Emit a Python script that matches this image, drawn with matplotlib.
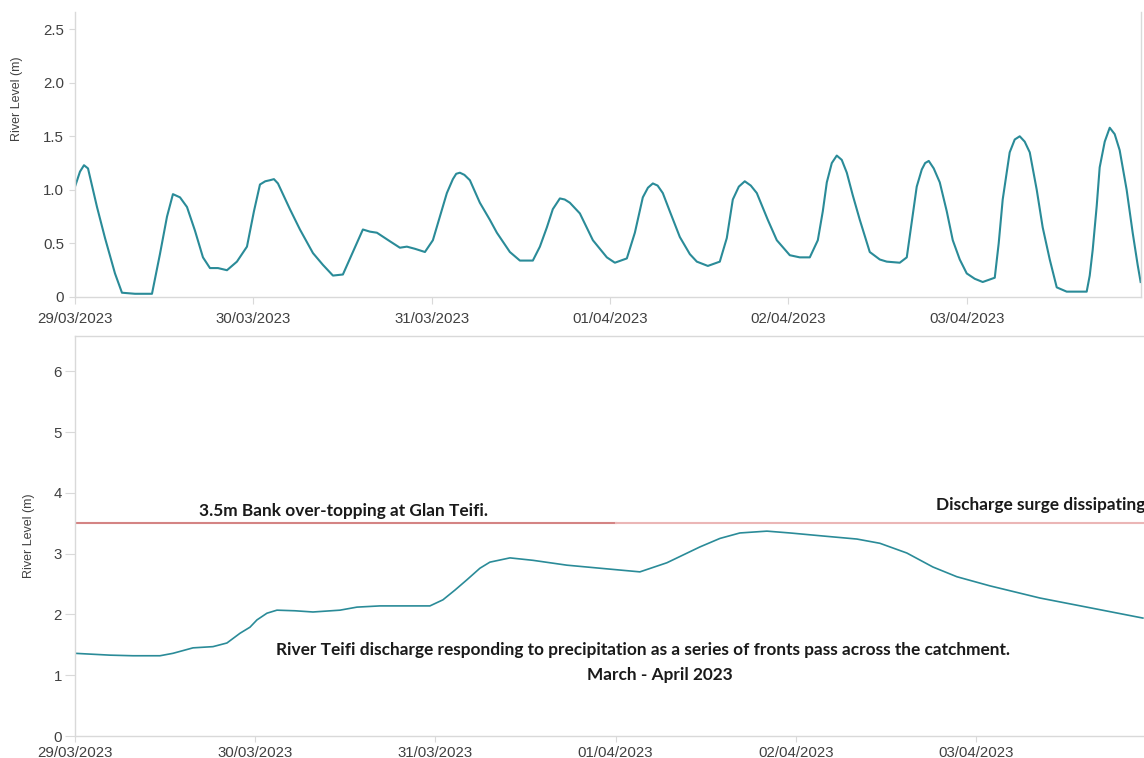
#!/usr/bin/env python3
"""River Teifi level at two gauges, 29 March - 3 April 2023.

Top panel: tidal gauge record. Bottom panel: upstream gauge with the
3.5 m bank over-topping level at Glan Teifi.
"""

import matplotlib

matplotlib.use("Agg")
import matplotlib.dates as mdates
import matplotlib.pyplot as plt
import pandas as pd

START = pd.Timestamp("2023-03-29 00:00")

# ---- tidal gauge (hours after start, level in m) -------------------------
tidal_hours = [
    0.0, 0.67, 1.21, 1.75, 2.96, 4.04, 5.38, 6.32, 8.07, 10.36, 11.43, 12.38,
    13.18, 14.13, 15.07, 16.14, 17.22, 18.16, 19.24, 20.45, 21.79, 23.14,
    24.08, 24.89, 25.60, 26.23, 26.77, 27.31, 28.92, 30.27, 32.02, 33.36,
    34.71, 36.05, 37.40, 38.74, 39.69, 40.63, 42.38, 43.72, 44.66, 45.74,
    47.09, 48.16, 49.10, 50.04, 50.85, 51.30, 51.79, 52.40, 53.14, 54.48,
    55.83, 56.77, 58.52, 59.87, 61.61, 62.56, 63.50, 64.30, 65.25, 65.90,
    66.59, 67.94, 69.69, 71.57, 72.65, 74.26, 75.34, 76.41, 77.10, 77.76,
    78.40, 79.10, 80.04, 81.39, 82.74, 83.68, 85.16, 86.77, 87.71, 88.52,
    89.33, 90.13, 90.94, 91.75, 93.23, 94.44, 96.19, 97.53, 98.88, 99.96,
    100.63, 101.17, 101.84, 102.51, 103.18, 103.86, 104.66, 105.61, 106.95,
    108.30, 109.24, 110.99, 111.93, 112.60, 113.27, 113.95, 114.40, 114.89,
    115.56, 116.37, 117.31, 118.12, 119.06, 120.00, 121.08, 122.15, 123.77,
    124.30, 124.84, 125.78, 126.46, 127.13, 127.80, 128.48, 129.42, 130.22,
    131.17, 132.11, 133.45, 134.80, 136.14, 136.55, 136.95, 137.49, 137.89,
    138.57, 139.24, 139.91, 140.58, 141.52, 142.33, 143.00, 143.40,
]
tidal_level = [
    1.03, 1.17, 1.23, 1.20, 0.84, 0.55, 0.22, 0.04, 0.03, 0.03, 0.40, 0.75,
    0.96, 0.93, 0.84, 0.62, 0.37, 0.27, 0.27, 0.25, 0.33, 0.47,
    0.80, 1.05, 1.08, 1.09, 1.10, 1.06, 0.82, 0.63, 0.41, 0.30,
    0.20, 0.21, 0.42, 0.63, 0.61, 0.60, 0.52, 0.46, 0.47, 0.45,
    0.42, 0.53, 0.75, 0.97, 1.10, 1.15, 1.16, 1.14, 1.09, 0.88,
    0.72, 0.60, 0.42, 0.34, 0.34, 0.47, 0.65, 0.82, 0.92, 0.91,
    0.88, 0.78, 0.53, 0.37, 0.32, 0.36, 0.60, 0.93, 1.02, 1.06,
    1.04, 0.97, 0.80, 0.56, 0.40, 0.33, 0.29, 0.33, 0.55, 0.91,
    1.03, 1.08, 1.04, 0.97, 0.72, 0.53, 0.39, 0.37, 0.37, 0.53,
    0.80, 1.07, 1.25, 1.32, 1.28, 1.16, 0.95, 0.72, 0.42,
    0.35, 0.33, 0.32, 0.37, 0.70, 1.03, 1.19, 1.25, 1.27,
    1.20, 1.07, 0.80, 0.53, 0.35, 0.22, 0.17, 0.14, 0.18,
    0.50, 0.91, 1.35, 1.47, 1.50, 1.45, 1.35, 1.00, 0.65,
    0.35, 0.09, 0.05, 0.05, 0.05, 0.20, 0.44, 0.85, 1.21,
    1.45, 1.58, 1.52, 1.37, 1.00, 0.60, 0.30, 0.14,
]

# ---- upstream gauge ------------------------------------------------------
river_hours = [
    0.0, 4.66, 7.73, 11.32, 13.05, 15.72, 18.38, 20.24, 21.98, 23.31, 24.24,
    25.57, 26.90, 29.30, 31.70, 35.30, 37.56, 40.62, 43.29, 47.28, 49.01,
    50.61, 52.21, 53.94, 55.27, 57.94, 61.00, 65.53, 69.92, 75.25, 78.85,
    83.24, 85.91, 88.57, 92.17, 95.23, 99.63, 104.15, 107.22, 110.81,
    114.28, 117.47, 121.87, 128.53, 135.19, 142.25,
]
river_level = [
    1.36, 1.33, 1.32, 1.32, 1.36, 1.45, 1.47, 1.53, 1.69, 1.79, 1.91,
    2.02, 2.07, 2.06, 2.04, 2.07, 2.12, 2.14, 2.14, 2.14, 2.24,
    2.40, 2.57, 2.76, 2.86, 2.93, 2.89, 2.81, 2.76, 2.70, 2.85,
    3.11, 3.25, 3.34, 3.37, 3.34, 3.29, 3.24, 3.17, 3.01,
    2.78, 2.62, 2.47, 2.27, 2.11, 1.94,
]

BANK_LEVEL = 3.5
BANK_SPLIT_HOURS = 72  # line is drawn darker up to 01/04

top_yticks = [0, 0.5, 1.0, 1.5, 2.0, 2.5]
top_yticklabels = ["0", "0.5", "1.0", "1.5", "2.0", "2.5"]
bottom_yticks = [0, 1, 2, 3, 4, 5, 6]

TEAL = "#2a8b98"
GRID = "#d9d9d9"
TXT = "#404040"


def to_time(hours):
    return START + pd.to_timedelta(hours, unit="h")


def style_axis(ax, ylen, xlen, ypad, xpad):
    for sp in ax.spines.values():
        sp.set_color(GRID)
        sp.set_linewidth(1.0)
    ax.xaxis.set_major_locator(mdates.DayLocator())
    ax.xaxis.set_major_formatter(mdates.DateFormatter("%d/%m/%Y"))
    ax.tick_params(axis="x", colors=GRID, labelcolor=TXT, length=xlen,
                   pad=xpad, labelsize=10.8)
    ax.tick_params(axis="y", colors=GRID, labelcolor=TXT, length=ylen,
                   pad=ypad, labelsize=10.8)


plt.rcParams["font.family"] = ["Liberation Sans", "DejaVu Sans"]

fig = plt.figure(figsize=(11.44, 7.58), dpi=100)
fig.patch.set_facecolor("white")

# ------------------------------------------------------------- tidal panel
ax1 = fig.add_axes([75 / 1144, 1 - 297 / 758, 1066 / 1144, 285 / 758])
ax1.plot(to_time(tidal_hours), tidal_level, color=TEAL, lw=1.5)
ax1.set_xlim(to_time(0), to_time(143.45))
ax1.set_ylim(0, 2.66)
ax1.set_yticks(top_yticks)
ax1.set_yticklabels(top_yticklabels)
ax1.spines["top"].set_visible(False)
style_axis(ax1, ylen=4, xlen=5, ypad=4, xpad=6)
fig.text(17 / 1144, 1 - 99 / 758, "River Level (m)", rotation=90,
         ha="center", va="center", fontsize=9, color=TXT)

# ---------------------------------------------------------- upstream panel
ax2 = fig.add_axes([75 / 1144, 1 - 736 / 758, 1069 / 1144, 400 / 758])
ax2.plot(to_time(river_hours), river_level, color=TEAL, lw=1.2)
ax2.plot(to_time([0, BANK_SPLIT_HOURS]), [BANK_LEVEL, BANK_LEVEL],
         color="#d48484", lw=1.5)
ax2.plot(to_time([BANK_SPLIT_HOURS, 150]), [BANK_LEVEL, BANK_LEVEL],
         color="#ebb6b6", lw=1.5)
ax2.set_xlim(to_time(0), to_time(142.4))
ax2.set_ylim(0, 6.58)
ax2.set_yticks(bottom_yticks)
ax2.spines["right"].set_visible(False)
style_axis(ax2, ylen=7, xlen=4, ypad=2.5, xpad=3)
fig.text(29 / 1144, 1 - 536 / 758, "River Level (m)", rotation=90,
         ha="center", va="center", fontsize=9, color=TXT)

# annotations
note_kw = dict(fontsize=12.4, fontweight="bold", color="#1a1a1a",
               family=["Lato", "DejaVu Sans"])
fig.text(199 / 1144, 1 - 511 / 758, "3.5m Bank over-topping at Glan Teifi.",
         ha="left", va="center", **note_kw)
fig.text(936 / 1144, 1 - 505 / 758, "Discharge surge dissipating",
         ha="left", va="center", **note_kw)
fig.text(643 / 1144, 1 - 650 / 758,
         "River Teifi discharge responding to precipitation as a series of "
         "fronts pass across the catchment.",
         ha="center", va="center", **note_kw)
fig.text(660 / 1144, 1 - 675 / 758, "March - April 2023",
         ha="center", va="center", **note_kw)

fig.savefig("out.png", dpi=100)
